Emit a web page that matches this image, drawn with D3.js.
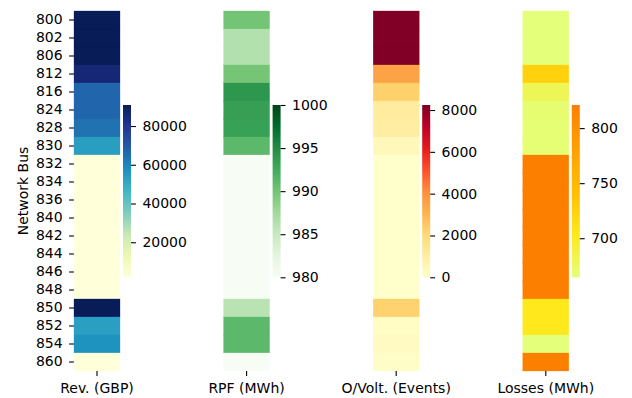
<!DOCTYPE html>
<html><head><meta charset="utf-8">
<script src="https://cdn.jsdelivr.net/npm/d3@7"></script>
<style>body{margin:0;background:#fff} text{font-family:"DejaVu Sans",sans-serif;fill:#000}</style>
</head><body><svg id="c" width="632" height="398"></svg>
<script>
const buses = ["800","802","806","812","816","824","828","830","832","834","836","840","842","844","846","848","850","852","854","860"];
const revenue =     [90860,90860,90860,85500,66840,66840,64260,53600,1900,1900,1900,1900,1900,1900,1900,1900,90860,53300,56900,1900];
const rpf =         [990.0,986.3,986.3,989.9,994.1,993.4,993.3,991.2,980,980,980,980,980,980,980,980,985.9,991.2,991.2,980];
const overVoltage = [8240,8240,8240,3510,2270,1080,980,420,0,0,0,0,0,0,0,0,2250,180,260,120];
const losses =      [664.5,664.5,664.5,723.7,679.6,668,667,667,821,821,821,821,821,821,821,821,703,703,664.5,820];
const columnLabels = ["Rev. (GBP)","RPF (MWh)","O/Volt. (Events)","Losses (MWh)"];
const revTicks = [20000,40000,60000,80000];
const rpfTicks = [980,985,990,995,1000];
const ovTicks = [0,2000,4000,6000,8000];
const lossTicks = [700,750,800];
const rpfRange = [980,1000];

const cmYlGnBu = d3.piecewise(d3.interpolateRgb, d3.schemeYlGnBu[9]);
const cmGreens = d3.piecewise(d3.interpolateRgb, d3.schemeGreens[9]);
const cmYlOrRd = d3.piecewise(d3.interpolateRgb, d3.schemeYlOrRd[9]);
const cmWistia = d3.piecewise(d3.interpolateRgb, ["#e4ff7a","#ffe81a","#ffbd00","#ffa000","#fc7f00"]);

const panels = [
  {values: revenue, domain: d3.extent(revenue), cmap: cmYlGnBu, ticks: revTicks},
  {values: rpf, domain: rpfRange, cmap: cmGreens, ticks: rpfTicks},
  {values: overVoltage, domain: d3.extent(overVoltage), cmap: cmYlOrRd, ticks: ovTicks},
  {values: losses, domain: d3.extent(losses), cmap: cmWistia, ticks: lossTicks}
];

const svg = d3.select("#c");
const defs = svg.append("defs");
const y = d3.scaleBand().domain(buses).range([11, 371]).padding(0);
const fs = 14;
const cellW = 46, step = 149.6, x0 = 74;
const cbTop = 105, cbBot = 277.3, cbW = 8;

// y axis
const yAxis = svg.append("g").attr("transform", `translate(${x0},0)`)
  .call(d3.axisLeft(y).tickSize(4.9).tickPadding(6.5));
yAxis.select(".domain").remove();
yAxis.selectAll(".tick line").attr("stroke","#000").attr("stroke-width",1.1);
yAxis.selectAll("text").style("font-size", fs+"px").style("font-family","DejaVu Sans").attr("fill","#000");

svg.append("text").attr("transform", `translate(27.5,191) rotate(-90)`)
  .attr("text-anchor","middle").style("font-size", fs+"px").text("Network Bus");

panels.forEach((p, i) => {
  const px = x0 + i*step;
  const norm = d3.scaleLinear().domain(p.domain).range([0,1]).clamp(true);
  const g = svg.append("g");
  g.selectAll("rect").data(p.values).join("rect")
    .attr("x", px).attr("y", (d,j) => y(buses[j]))
    .attr("width", cellW).attr("height", y.bandwidth())
    .attr("fill", d => p.cmap(norm(d)))
    .attr("stroke", d => p.cmap(norm(d))).attr("stroke-width", 0.3);
  // x tick + label
  const cx = px + cellW/2;
  svg.append("line").attr("x1",cx).attr("x2",cx).attr("y1",371).attr("y2",375.9)
    .attr("stroke","#000").attr("stroke-width",1.1);
  svg.append("text").attr("x",cx).attr("y",393).attr("text-anchor","middle")
    .style("font-size", fs+"px").text(columnLabels[i]);
  // colorbar
  const cbx = px + cellW + 3;
  const gid = "grad"+i;
  const grad = defs.append("linearGradient").attr("id",gid)
    .attr("x1",0).attr("y1",1).attr("x2",0).attr("y2",0);
  d3.range(0,1.0001,0.025).forEach(t => grad.append("stop").attr("offset",t).attr("stop-color",p.cmap(t)));
  svg.append("rect").attr("x",cbx).attr("y",cbTop).attr("width",cbW).attr("height",cbBot-cbTop)
    .attr("fill",`url(#${gid})`);
  const cs = d3.scaleLinear().domain(p.domain).range([cbBot, cbTop]);
  const ax = svg.append("g").attr("transform",`translate(${cbx+cbW},0)`)
    .call(d3.axisRight(cs).tickValues(p.ticks).tickSize(4.9).tickPadding(6.5).tickFormat(d3.format("d")));
  ax.select(".domain").remove();
  ax.selectAll(".tick line").attr("stroke","#000").attr("stroke-width",1.1);
  ax.selectAll("text").style("font-size", fs+"px").style("font-family","DejaVu Sans").attr("fill","#000");
});
</script></body></html>
